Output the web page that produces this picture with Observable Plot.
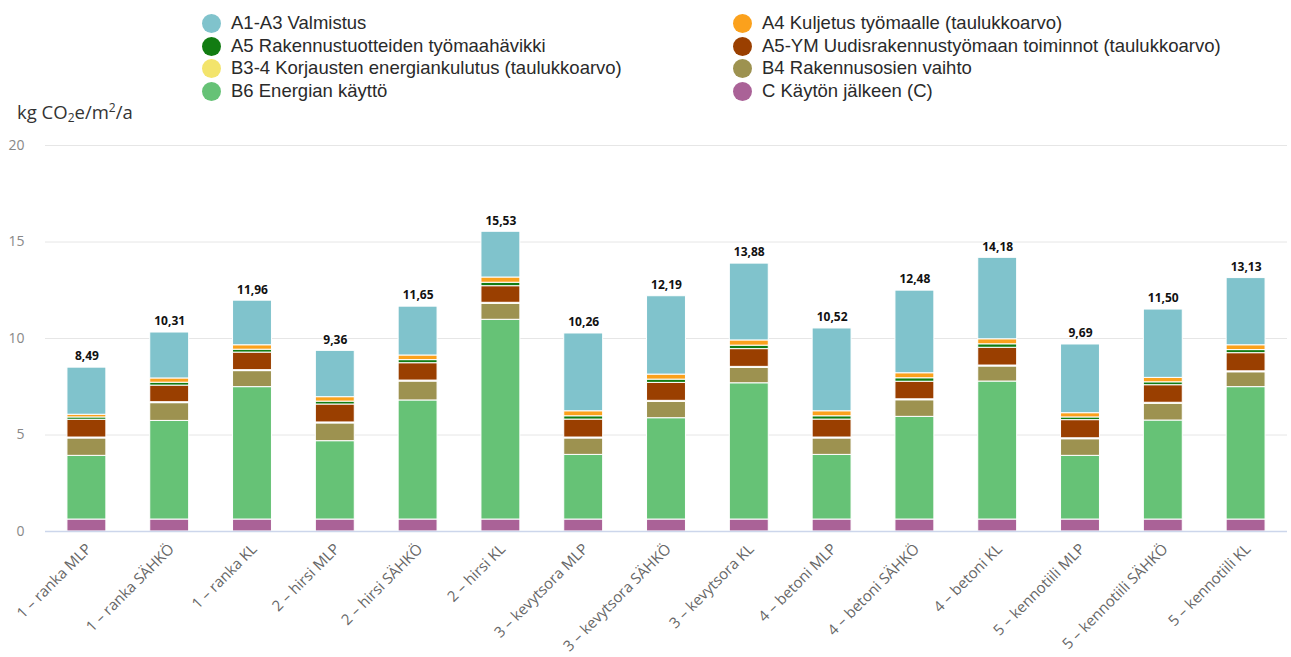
<!DOCTYPE html>
<html>
<head>
<meta charset="utf-8">
<script src="https://cdn.jsdelivr.net/npm/d3@7"></script>
<script src="https://cdn.jsdelivr.net/npm/@observablehq/plot@0.6"></script>
<style>
  body { margin: 0; background: #fff; width: 1291px; height: 657px; overflow: hidden; }
  #legendBox { position: relative; height: 100px; }
  .leg { position: absolute; font-family: "Liberation Sans", Arial, sans-serif; font-size: 18.5px; color: #2a2a2a; white-space: nowrap; line-height: 20px; }
  .leg .dot { position: absolute; width: 19px; height: 19px; border-radius: 50%; left: -29px; top: 1px; }
  #ytitle { position: absolute; left: 17px; top: 99px; font-family: "Open Sans", sans-serif; font-size: 18.5px; color: #333; white-space: nowrap; }
  #ytitle sub, #ytitle sup { font-size: 12px; }
  #ytitle sub { vertical-align: -3px; }
  #ytitle sup { vertical-align: 7px; }
</style>
</head>
<body>
<div id="legendBox"></div>
<div id="chart"></div>
<script>
const categories = [
  "1 – ranka MLP", "1 – ranka SÄHKÖ", "1 – ranka KL",
  "2 – hirsi MLP", "2 – hirsi SÄHKÖ", "2 – hirsi KL",
  "3 – kevytsora MLP", "3 – kevytsora SÄHKÖ", "3 – kevytsora KL",
  "4 – betoni MLP", "4 – betoni SÄHKÖ", "4 – betoni KL",
  "5 – kennotiili MLP", "5 – kennotiili SÄHKÖ", "5 – kennotiili KL"
];

// legend order (series order)
const seriesNames = [
  "A1-A3 Valmistus",
  "A4 Kuljetus työmaalle (taulukkoarvo)",
  "A5 Rakennustuotteiden työmaahävikki",
  "A5-YM Uudisrakennustyömaan toiminnot (taulukkoarvo)",
  "B3-4 Korjausten energiankulutus (taulukkoarvo)",
  "B4 Rakennusosien vaihto",
  "B6 Energian käyttö",
  "C Käytön jälkeen (C)"
];
const seriesColors = ["#80c3cc", "#fba11c", "#127c12", "#9a3f00", "#f3e46c", "#9d9250", "#66c276", "#aa6297"];

const valA1A3 = [2.44, 2.38, 2.31, 2.40, 2.53, 2.37, 4.03, 4.06, 3.98, 4.29, 4.28, 4.22, 3.56, 3.54, 3.48];
const valA4   = [0.14, 0.22, 0.23, 0.23, 0.24, 0.27, 0.26, 0.26, 0.27, 0.26, 0.26, 0.26, 0.22, 0.23, 0.25];
const valA5   = [0.12, 0.15, 0.15, 0.15, 0.16, 0.18, 0.17, 0.17, 0.18, 0.17, 0.18, 0.18, 0.14, 0.15, 0.16];
const valA5YM = [0.92, 0.86, 0.91, 0.93, 0.90, 0.86, 0.93, 0.93, 0.92, 0.93, 0.91, 0.92, 0.94, 0.91, 0.94];
const valB34  = [0.05, 0.05, 0.05, 0.05, 0.05, 0.05, 0.05, 0.05, 0.05, 0.05, 0.05, 0.05, 0.05, 0.05, 0.05];
const valB4   = [0.90, 0.92, 0.83, 0.92, 0.98, 0.83, 0.85, 0.85, 0.80, 0.85, 0.86, 0.78, 0.86, 0.87, 0.77];
const valB6   = [3.30, 5.11, 6.86, 4.06, 6.17, 10.35, 3.35, 5.25, 7.06, 3.35, 5.32, 7.15, 3.30, 5.13, 6.86];
const valC    = [0.62, 0.62, 0.62, 0.62, 0.62, 0.62, 0.62, 0.62, 0.62, 0.62, 0.62, 0.62, 0.62, 0.62, 0.62];

const totals = [8.49, 10.31, 11.96, 9.36, 11.65, 15.53, 10.26, 12.19, 13.88, 10.52, 12.48, 14.18, 9.69, 11.50, 13.13];
const yTicks = [0, 5, 10, 15, 20];

const seriesValues = [valA1A3, valA4, valA5, valA5YM, valB34, valB4, valB6, valC];

// stacking bottom-to-top: reverse of series order
const rows = [];
for (let s = seriesNames.length - 1; s >= 0; s--) {
  categories.forEach((c, i) => rows.push({cat: c, series: seriesNames[s], value: seriesValues[s][i]}));
}
const totalRows = categories.map((c, i) => ({cat: c, total: totals[i], label: totals[i].toFixed(2).replace(".", ",")}));

// legend
const legendBox = document.getElementById("legendBox");
const colX = [231, 762];
seriesNames.forEach((name, i) => {
  const col = i % 2, row = Math.floor(i / 2);
  const d = document.createElement("div");
  d.className = "leg";
  d.style.left = colX[col] + "px";
  d.style.top = (13 + row * 22.6) + "px";
  d.innerHTML = `<span class="dot" style="background:${seriesColors[i]}"></span>`;
  d.appendChild(document.createTextNode(name));
  legendBox.appendChild(d);
});
const yt = document.createElement("div");
yt.id = "ytitle";
yt.innerHTML = "kg CO<sub>2</sub>e/m<sup>2</sup>/a";
document.body.appendChild(yt);

const chart = Plot.plot({
  width: 1291,
  height: 557,
  marginTop: 45,
  marginBottom: 126,
  marginLeft: 45,
  marginRight: 4,
  style: {fontFamily: "'Open Sans', sans-serif", background: "#fff"},
  x: {domain: categories, paddingInner: 0.53, paddingOuter: 0.265, round: false, label: null},
  y: {domain: [0, 20], label: null},
  color: {domain: seriesNames, range: seriesColors},
  marks: [
    Plot.ruleY(yTicks.filter(t => t > 0), {stroke: "#e6e6e6", strokeWidth: 1}),
    Plot.barY(rows, {x: "cat", y: "value", fill: "series", stroke: "#fff", strokeWidth: 1}),
    Plot.ruleY([0], {stroke: "#ccd6eb", strokeWidth: 1.5}),
    Plot.text(totalRows, {x: "cat", y: "total", text: "label", dy: -11, fontWeight: "bold", fontSize: 12, fill: "#111", stroke: "#fff", strokeWidth: 2}),
    Plot.axisY({ticks: yTicks, tickSize: 0, tickPadding: 21, fontSize: 14, color: "#888", label: null}),
    Plot.axisX({tickSize: 0, tickRotate: -45, tickPadding: 15, dx: 2, fontSize: 15, color: "#666", label: null})
  ]
});
document.getElementById("chart").appendChild(chart);
</script>
</body>
</html>
